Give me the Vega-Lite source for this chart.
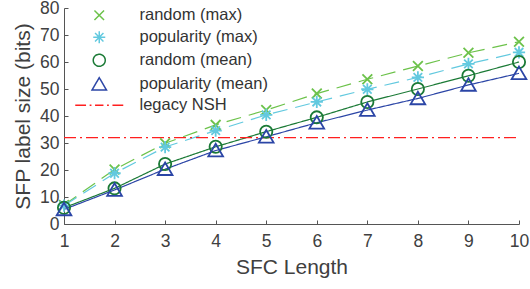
{
  "$schema": "https://vega.github.io/schema/vega-lite/v6.json",
  "width": 455,
  "height": 216,
  "autosize": "none",
  "padding": {"left": 64, "top": 8, "right": 11, "bottom": 65},
  "background": "white",
  "config": {
    "font": "Liberation Sans",
    "view": {"stroke": null},
    "axis": {
      "grid": false,
      "domainColor": "#555555",
      "tickColor": "#555555",
      "labelColor": "#404040",
      "titleColor": "#404040",
      "labelFont": "Liberation Sans",
      "titleFont": "Liberation Sans",
      "labelFontSize": 17.5,
      "titleFontSize": 21,
      "titleFontWeight": "normal",
      "tickSize": -4
    }
  },
  "data": {
    "values": [
      {"len": 1, "bits": 7, "series": "random (max)"},
      {"len": 2, "bits": 20.2, "series": "random (max)"},
      {"len": 3, "bits": 29.9, "series": "random (max)"},
      {"len": 4, "bits": 36.7, "series": "random (max)"},
      {"len": 5, "bits": 42.2, "series": "random (max)"},
      {"len": 6, "bits": 48.3, "series": "random (max)"},
      {"len": 7, "bits": 53.6, "series": "random (max)"},
      {"len": 8, "bits": 58.5, "series": "random (max)"},
      {"len": 9, "bits": 63.4, "series": "random (max)"},
      {"len": 10, "bits": 67.5, "series": "random (max)"},
      {"len": 1, "bits": 6.8, "series": "popularity (max)"},
      {"len": 2, "bits": 18.8, "series": "popularity (max)"},
      {"len": 3, "bits": 28.5, "series": "popularity (max)"},
      {"len": 4, "bits": 34.6, "series": "popularity (max)"},
      {"len": 5, "bits": 40.4, "series": "popularity (max)"},
      {"len": 6, "bits": 45.2, "series": "popularity (max)"},
      {"len": 7, "bits": 49.9, "series": "popularity (max)"},
      {"len": 8, "bits": 54.3, "series": "popularity (max)"},
      {"len": 9, "bits": 59.3, "series": "popularity (max)"},
      {"len": 10, "bits": 63.6, "series": "popularity (max)"},
      {"len": 1, "bits": 6, "series": "random (mean)"},
      {"len": 2, "bits": 13.2, "series": "random (mean)"},
      {"len": 3, "bits": 22.2, "series": "random (mean)"},
      {"len": 4, "bits": 28.6, "series": "random (mean)"},
      {"len": 5, "bits": 34.2, "series": "random (mean)"},
      {"len": 6, "bits": 39.5, "series": "random (mean)"},
      {"len": 7, "bits": 45.2, "series": "random (mean)"},
      {"len": 8, "bits": 50, "series": "random (mean)"},
      {"len": 9, "bits": 54.9, "series": "random (mean)"},
      {"len": 10, "bits": 60, "series": "random (mean)"},
      {"len": 1, "bits": 5.4, "series": "popularity (mean)"},
      {"len": 2, "bits": 12.6, "series": "popularity (mean)"},
      {"len": 3, "bits": 20.3, "series": "popularity (mean)"},
      {"len": 4, "bits": 27.2, "series": "popularity (mean)"},
      {"len": 5, "bits": 32.3, "series": "popularity (mean)"},
      {"len": 6, "bits": 37.5, "series": "popularity (mean)"},
      {"len": 7, "bits": 42.2, "series": "popularity (mean)"},
      {"len": 8, "bits": 46.5, "series": "popularity (mean)"},
      {"len": 9, "bits": 51.5, "series": "popularity (mean)"},
      {"len": 10, "bits": 55.8, "series": "popularity (mean)"},
      {"len": 1, "bits": 32, "series": "legacy NSH"},
      {"len": 10, "bits": 32, "series": "legacy NSH"}
    ]
  },
  "encoding": {
    "x": {
      "field": "len", "type": "quantitative",
      "scale": {"domain": [1, 10], "nice": false, "zero": false},
      "axis": {"values": [1,2,3,4,5,6,7,8,9,10], "title": "SFC Length", "labelPadding": 12, "titlePadding": 7, "labelFlush": false}
    },
    "y": {
      "field": "bits", "type": "quantitative",
      "scale": {"domain": [0, 80], "nice": false},
      "axis": {"values": [0,10,20,30,40,50,60,70,80], "title": "SFP label size (bits)", "labelPadding": 9, "titlePadding": 6}
    },
    "color": {
      "field": "series", "type": "nominal",
      "scale": {
        "domain": ["random (max)", "popularity (max)", "random (mean)", "popularity (mean)", "legacy NSH"],
        "range": ["#6cc24a", "#62c9df", "#1b7a36", "#2b45a6", "#ff1f1f"]
      },
      "legend": {
        "title": null,
        "orient": "none",
        "legendX": 27,
        "legendY": -1,
        "padding": 0,
        "symbolSize": 144,
        "symbolStrokeWidth": 1.5,
        "labelOffset": 32,
        "labelFontSize": 16.5,
        "labelColor": "#333333",
        "labelFont": "Liberation Sans",
        "rowPadding": 4
      }
    }
  },
  "layer": [
    {
      "mark": {"type": "line", "strokeWidth": 1.2},
      "encoding": {
        "strokeDash": {
          "field": "series", "type": "nominal",
          "scale": {
            "domain": ["random (max)", "popularity (max)", "random (mean)", "popularity (mean)", "legacy NSH"],
            "range": [[15, 8], [15, 8], [1, 0], [1, 0], [12, 4, 2, 4]]
          },
          "legend": null
        }
      }
    },
    {
      "transform": [{"filter": "datum.series != 'legacy NSH'"}],
      "mark": {"type": "point", "filled": false, "strokeWidth": 1.8, "size": 150, "opacity": 1},
      "encoding": {
        "shape": {
          "field": "series", "type": "nominal",
          "scale": {
            "domain": ["random (max)", "popularity (max)", "random (mean)", "popularity (mean)", "legacy NSH"],
            "range": [
              "M-0.8,-0.8L0.8,0.8M-0.8,0.8L0.8,-0.8",
              "M-1,0L1,0M0,-1L0,1M-0.7,-0.7L0.7,0.7M-0.7,0.7L0.7,-0.7",
              "M-1,0A1,1,0,1,1,1,0A1,1,0,1,1,-1,0Z",
              "M0,-1.1L1.2,0.95L-1.2,0.95Z",
              "M-4,0L-2.2,0M-1.6,0L-1.3,0M-0.7,0L0.7,0M1.3,0L1.6,0M2.2,0L4,0"
            ]
          },
          "legend": null
        }
      }
    }
  ]
}
